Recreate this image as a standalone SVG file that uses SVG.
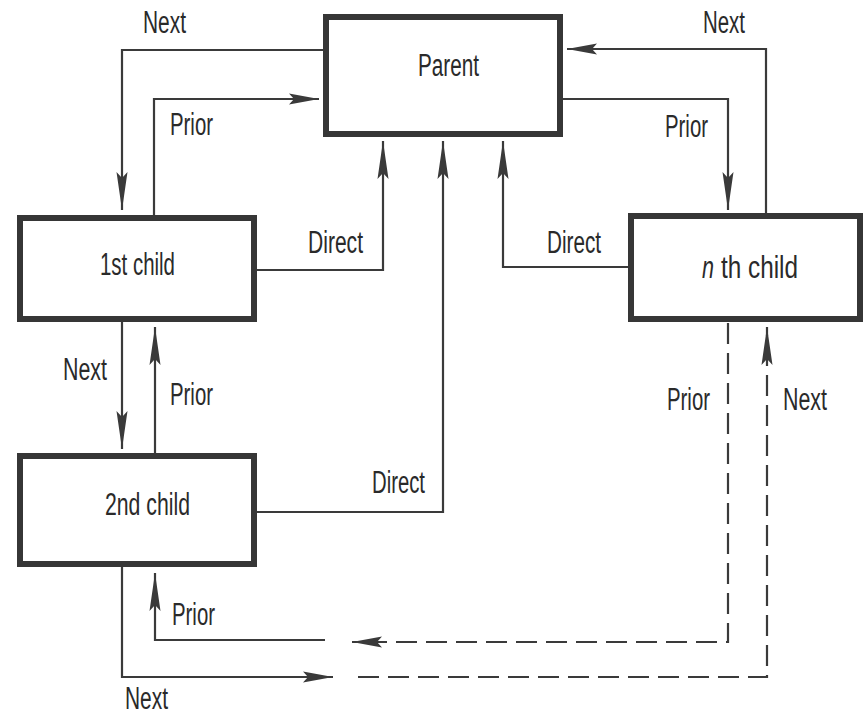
<svg xmlns="http://www.w3.org/2000/svg" width="864" height="717" viewBox="0 0 864 717">
<defs>
<style>
.box{fill:#ffffff;stroke:#363636;stroke-width:6}
.ln{fill:none;stroke:#3a3a3a;stroke-width:2.2}
.dash{stroke-dasharray:21 9}
.lbl{font-family:"Liberation Sans",Arial,sans-serif;font-size:31px;fill:#2a2a2a}
</style>
<marker id="av" viewBox="0 0 38 12" refX="38" refY="6" markerWidth="38" markerHeight="12" markerUnits="userSpaceOnUse" orient="auto">
<path d="M0,0.5 L38,6 L0,11.5 L6,6 Z" fill="#3a3a3a"/>
</marker>
<marker id="ah" viewBox="0 0 30 12" refX="30" refY="6" markerWidth="30" markerHeight="12" markerUnits="userSpaceOnUse" orient="auto">
<path d="M0,0.5 L30,6 L0,11.5 L5,6 Z" fill="#3a3a3a"/>
</marker>
</defs>
<rect width="864" height="717" fill="#ffffff"/>
<g id="connectors">
<path class="ln" d="M323,50 H122 V210" marker-end="url(#av)"/>
<path class="ln" d="M154,215 V99 H319" marker-end="url(#ah)"/>
<path class="ln" d="M257,270 H383 V141" marker-end="url(#av)"/>
<path class="ln" d="M257,512 H443 V141" marker-end="url(#av)"/>
<path class="ln" d="M628,267 H503 V141" marker-end="url(#av)"/>
<path class="ln" d="M766,213 V49 H567" marker-end="url(#ah)"/>
<path class="ln" d="M563,99 H728 V210" marker-end="url(#av)"/>
<path class="ln" d="M122,322 V449" marker-end="url(#av)"/>
<path class="ln" d="M155,453 V327" marker-end="url(#av)"/>
<path class="ln dash" d="M728,323 V642 H352" marker-end="url(#ah)"/>
<path class="ln" d="M325,640 H155 V573" marker-end="url(#av)"/>
<path class="ln" d="M122,567 V677 H333" marker-end="url(#ah)"/>
<path class="ln dash" d="M358,677 H767 V327" marker-end="url(#av)"/>
</g>
<g id="parent">
<rect class="box" x="326" y="17" width="234" height="117"/>
<text class="lbl" x="418" y="76" textLength="61" lengthAdjust="spacingAndGlyphs">Parent</text>
</g>
<g id="child1">
<rect class="box" x="20" y="218" width="234" height="101"/>
<text class="lbl" x="100" y="275" textLength="75" lengthAdjust="spacingAndGlyphs">1st child</text>
</g>
<g id="child2">
<rect class="box" x="20" y="456" width="234" height="108"/>
<text class="lbl" x="105" y="515" textLength="85" lengthAdjust="spacingAndGlyphs">2nd child</text>
</g>
<g id="childn">
<rect class="box" x="631" y="216" width="229" height="103"/>
<text class="lbl" x="702" y="278" textLength="12" lengthAdjust="spacingAndGlyphs" font-style="italic">n</text>
<text class="lbl" x="721" y="278" textLength="77" lengthAdjust="spacingAndGlyphs">th child</text>
</g>
<g id="labels">
<text class="lbl" x="143" y="33" textLength="43" lengthAdjust="spacingAndGlyphs">Next</text>
<text class="lbl" x="170" y="135" textLength="43" lengthAdjust="spacingAndGlyphs">Prior</text>
<text class="lbl" x="308" y="253" textLength="55" lengthAdjust="spacingAndGlyphs">Direct</text>
<text class="lbl" x="63" y="380" textLength="44" lengthAdjust="spacingAndGlyphs">Next</text>
<text class="lbl" x="170" y="405" textLength="43" lengthAdjust="spacingAndGlyphs">Prior</text>
<text class="lbl" x="372" y="493" textLength="53" lengthAdjust="spacingAndGlyphs">Direct</text>
<text class="lbl" x="172" y="625" textLength="43" lengthAdjust="spacingAndGlyphs">Prior</text>
<text class="lbl" x="125" y="709" font-size="29" textLength="43" lengthAdjust="spacingAndGlyphs">Next</text>
<text class="lbl" x="703" y="33" textLength="42" lengthAdjust="spacingAndGlyphs">Next</text>
<text class="lbl" x="665" y="137" textLength="43" lengthAdjust="spacingAndGlyphs">Prior</text>
<text class="lbl" x="547" y="253" textLength="54" lengthAdjust="spacingAndGlyphs">Direct</text>
<text class="lbl" x="667" y="410" textLength="43" lengthAdjust="spacingAndGlyphs">Prior</text>
<text class="lbl" x="783" y="410" textLength="44" lengthAdjust="spacingAndGlyphs">Next</text>
</g>
</svg>
